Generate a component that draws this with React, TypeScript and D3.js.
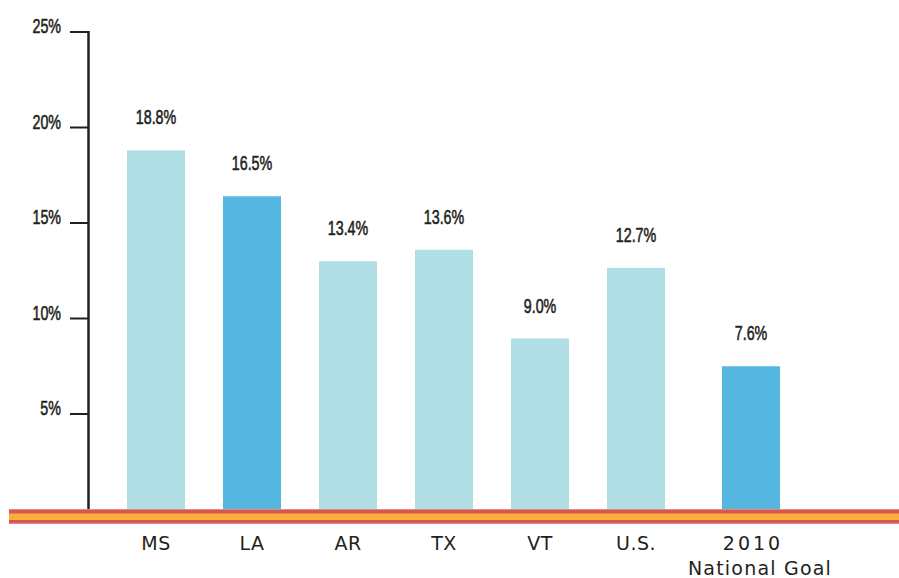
import React from 'react'
import * as d3 from 'd3'

const width = 899
const height = 578

const categories = ['MS', 'LA', 'AR', 'TX', 'VT', 'U.S.', '2010']
const subLabels = ['', '', '', '', '', '', 'National Goal']
const values = [18.8, 16.4, 13.0, 13.6, 8.95, 12.65, 7.5]
const valueLabels = ['18.8%', '16.5%', '13.4%', '13.6%', '9.0%', '12.7%', '7.6%']
const highlighted = ['LA', '2010']
const yTicks = [5, 10, 15, 20, 25]

const textColor = '#231f20'
const lightBar = '#b0dee4'
const darkBar = '#55b7e0'
const narrowFont = "'Liberation Sans', Arial, sans-serif"
const labelFont = "'DejaVu Sans', sans-serif"
const squeeze = 0.68

function NarrowText({ x, y, anchor, children }: { x: number, y: number, anchor: string, children: React.ReactNode }) {
  return (
    <g transform={`translate(${x},${y}) scale(${squeeze},1)`}>
      <text
        textAnchor={anchor}
        fontFamily={narrowFont}
        fontSize={21}
        fill={textColor}
        stroke={textColor}
        strokeWidth={0.6}
      >
        {children}
      </text>
    </g>
  )
}

function App() {
  const y = d3.scaleLinear().domain([0, 25]).range([509.5, 32])
  // evenly spaced states, the national goal sits a bit further right
  const x = d3.scaleLinear().domain([0, 5]).range([156, 636])
  const goalGap = 19
  const barW = 58
  const cx = (i: number) => x(i) + (i === categories.length - 1 ? goalGap : 0)
  const axisX = 88.5

  return (
    <svg width={width} height={height} style={{ position: 'absolute', left: 0, top: 0 }}>
      <rect width={width} height={height} fill="#fff" />

      {categories.map((c, i) => (
        <rect
          key={c}
          x={cx(i) - barW / 2}
          y={y(values[i])}
          width={barW}
          height={y(0) - y(values[i])}
          fill={highlighted.includes(c) ? darkBar : lightBar}
        />
      ))}

      {categories.map((c, i) => (
        <NarrowText key={c + '-v'} x={cx(i)} y={y(values[i]) - 26} anchor="middle">
          {valueLabels[i]}
        </NarrowText>
      ))}

      {/* y axis */}
      <line x1={axisX} x2={axisX} y1={y(25) - 1} y2={y(0)} stroke={textColor} strokeWidth={2.5} />
      {yTicks.map(t => (
        <g key={t}>
          <line x1={70} x2={axisX} y1={y(t)} y2={y(t)} stroke={textColor} strokeWidth={2} />
          <NarrowText x={61} y={y(t) + 1} anchor="end">{t}%</NarrowText>
        </g>
      ))}

      {/* baseline stripe */}
      <rect x={9} y={509} width={width - 9} height={15} fill="#e9a39c" />
      <rect x={9} y={509.7} width={width - 9} height={13.6} fill="#d6584f" />
      <rect x={9} y={513.5} width={width - 9} height={6.5} fill="#fbad3d" />

      {categories.map((c, i) => (
        <text
          key={c + '-c'}
          x={cx(i) + (c === '2010' ? 2 : 0)}
          y={550}
          textAnchor="middle"
          fontFamily={labelFont}
          fontSize={19}
          letterSpacing={c === '2010' ? 3 : 0.5}
          fill={textColor}
        >
          {c}
          {subLabels[i] && (
            <tspan x={cx(i) + 9} dy={25} letterSpacing={1.2}>
              {subLabels[i]}
            </tspan>
          )}
        </text>
      ))}
    </svg>
  )
}

export default App
